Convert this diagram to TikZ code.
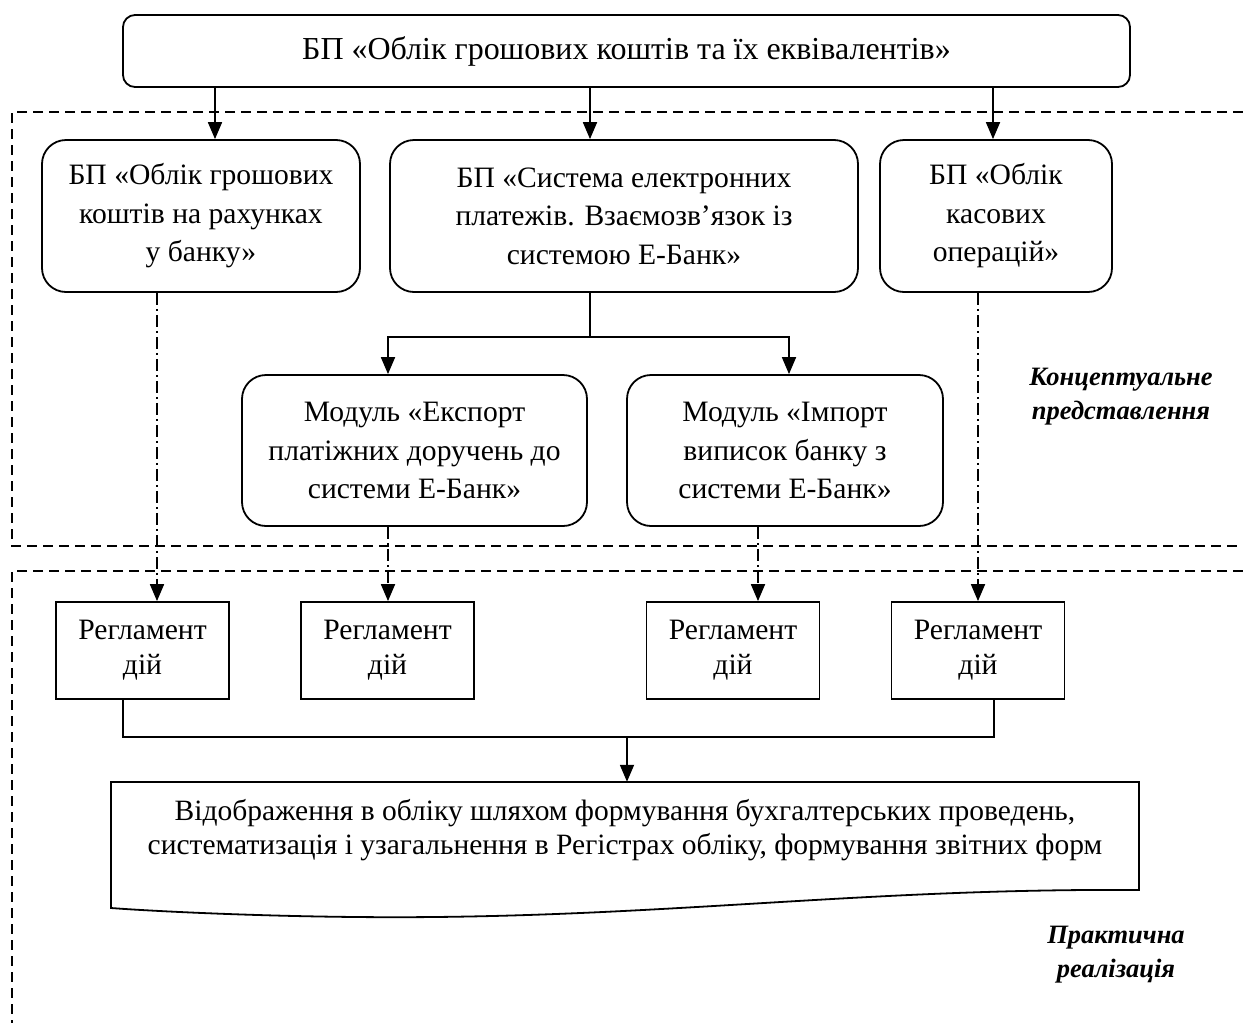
\documentclass[tikz,border=0pt]{standalone}
\usepackage{fontspec}
\setmainfont{Liberation Serif}
\usetikzlibrary{arrows.meta}
\begin{document}
\begin{tikzpicture}[x=1pt,y=-1pt,
  txt/.style={font=\fontsize{29.6}{38.5}\selectfont, align=center, inner sep=0pt},
  rbox/.style={txt, draw, line width=1.8pt, rounded corners=24pt},
  regbox/.style={draw, line width=1.8pt, font=\fontsize{29.6}{35}\selectfont, align=center,
                 inner sep=0pt, minimum width=173pt, minimum height=97pt},
  line/.style={line width=1.8pt},
  arr/.style={line width=1.8pt, -{Triangle[length=17pt,width=14pt]}},
  dd/.style={line width=1.8pt, dash pattern=on 12pt off 4pt on 2pt off 4pt,
             -{Triangle[length=17pt,width=14pt]}},
  frame/.style={line width=1.4pt, dash pattern=on 10pt off 6pt},
  lbl/.style={font=\fontsize{26.5}{34}\selectfont\bfseries\itshape, align=center, inner sep=0pt}]
\useasboundingbox (0,0) rectangle (1243,1023);

% section frames
\draw[frame] (1243,112) -- (12,112) -- (12,546) -- (1243,546);
\draw[frame] (1243,571) -- (12,571) -- (12,1023);

% top process
\node[txt, font=\fontsize{32}{38}\selectfont, draw, line width=1.8pt, rounded corners=12pt,
      minimum width=1007pt, minimum height=72pt]
  (top) at (626.5,51) {БП «Облік грошових коштів та їх еквівалентів»};

% second level processes
\node[rbox, minimum width=318pt, minimum height=152pt] (A) at (201,216)
  {БП «Облік грошових\\коштів на рахунках\\у банку»};
\node[rbox, minimum width=468pt, minimum height=152pt] (B) at (624,216)
  {БП «Система електронних\\платежів. Взаємозв’язок із\\системою Е-Банк»};
\node[rbox, minimum width=232pt, minimum height=152pt] (C) at (996,216)
  {БП «Облік\\касових\\операцій»};

% modules
\node[rbox, minimum width=345pt, minimum height=151pt] (M1) at (414.5,450.5)
  {Модуль «Експорт\\платіжних доручень до\\системи Е-Банк»};
\node[rbox, minimum width=316pt, minimum height=151pt] (M2) at (785,450.5)
  {Модуль «Імпорт\\виписок банку з\\системи Е-Банк»};

% action regulations
\node[regbox] (R1) at (142.5,650.5) {Регламент\\дій};
\node[regbox] (R2) at (387.5,650.5) {Регламент\\дій};
\node[regbox] (R3) at (733,650.5) {Регламент\\дій};
\node[regbox] (R4) at (978,650.5) {Регламент\\дій};

% document
\node[txt, font=\fontsize{29.5}{34}\selectfont, minimum width=1028pt, minimum height=96pt] (D) at (625,830)
  {Відображення в обліку шляхом формування бухгалтерських проведень,\\
   систематизація і узагальнення в Регістрах обліку, формування звітних форм};
\draw[line] (111,782) -- (1139,782) -- (1139,890)
  .. controls (850,888) and (650,920) .. (356,917)
  .. controls (250,916) and (150,911) .. (111,908) -- cycle;

% side labels
\node[lbl] (lc) at (1121,397) {Концептуальне\\представлення};
\node[lbl] (lp) at (1116,955) {Практична\\реалізація};

% connector positions
\coordinate (kA) at (215,0);
\coordinate (kB) at (590,0);
\coordinate (kC) at (993,0);
\coordinate (split) at (590,337);
\coordinate (k1) at (388,0);
\coordinate (k2) at (789,0);
\coordinate (d1) at (157,0);
\coordinate (d2) at (388,0);
\coordinate (d3) at (758,0);
\coordinate (d4) at (978,0);
\coordinate (b1) at (123,0);
\coordinate (b4) at (994,0);
\coordinate (join) at (627,737);

% top to second level
\draw[arr] (top.south -| kA) -- (A.north -| kA);
\draw[arr] (top.south -| kB) -- (B.north -| kB);
\draw[arr] (top.south -| kC) -- (C.north -| kC);

% split to modules
\draw[line] (B.south -| split) -- (split);
\draw[arr] (split) -| (M1.north -| k1);
\draw[arr] (split) -| (M2.north -| k2);

% links to regulations
\draw[dd] (A.south -| d1) -- (R1.north -| d1);
\draw[dd] (M1.south -| d2) -- (R2.north -| d2);
\draw[dd] (M2.south -| d3) -- (R3.north -| d3);
\draw[dd] (C.south -| d4) -- (R4.north -| d4);

% join to document
\draw[line] (R1.south -| b1) |- (join) -| (R4.south -| b4);
\draw[arr] (join) -- (D.north -| join);
\end{tikzpicture}
\end{document}
